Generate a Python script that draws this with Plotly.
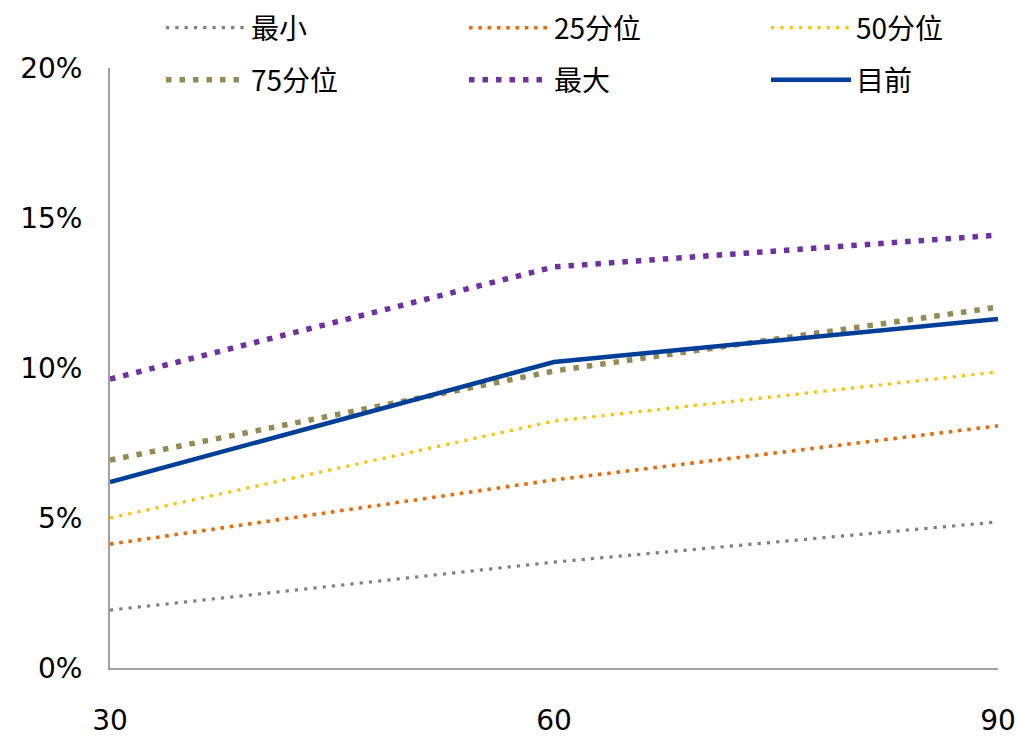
import plotly.graph_objects as go

x_days = [30, 60, 90]
series_names = ["最小", "25分位", "50分位", "75分位", "最大", "目前"]
v_min = [1.93, 3.53, 4.87]
v_p25 = [4.13, 6.27, 8.07]
v_p50 = [5.0, 8.23, 9.87]
v_p75 = [6.93, 9.9, 12.03]
v_max = [9.63, 13.37, 14.43]
v_now = [6.2, 10.2, 11.63]
y_ticks = [0, 5, 10, 15, 20]

values = [v_min, v_p25, v_p50, v_p75, v_max, v_now]
colors = ["#7f7f7f", "#e46c0a", "#ffc000", "#948a54", "#7030a0", "#003f98"]
widths = [3.2, 3.6, 3.2, 5.5, 5.5, 4.5]
dashes = ["3.2px,6.1px", "3.6px,5.7px", "3.2px,6.1px", "5.5px,8px", "5.5px,8px", "solid"]

# legend placement (one legend box per entry, laid out as a 3x2 grid)
W, H = 1020, 738
ML, MR, MT, MB = 110, 22, 68, 70
PW, PH = W - ML - MR, H - MT - MB
legend_px_x = [161, 464, 766, 161, 464, 766]
legend_px_y = [28, 28, 28, 80, 80, 80]

fig = go.Figure()
layout_legends = {}
for i, (name, vals, c, w, d) in enumerate(zip(series_names, values, colors, widths, dashes)):
    lid = "legend" if i == 0 else f"legend{i + 1}"
    fig.add_trace(go.Scatter(
        x=x_days, y=vals, name=name, mode="lines",
        line=dict(color=c, width=w, dash=d),
        legend=lid, showlegend=True,
    ))
    layout_legends[lid] = dict(
        orientation="h",
        font=dict(family="Noto Sans CJK SC", size=28, color="#000000"),
        bgcolor="rgba(0,0,0,0)",
        xanchor="left", yanchor="middle",
        x=(legend_px_x[i] - ML) / PW,
        y=(H - MB - legend_px_y[i]) / PH,
        itemwidth=80,
    )

fig.update_layout(
    width=W, height=H, showlegend=True,
    margin=dict(l=ML, r=MR, t=MT, b=MB, autoexpand=False),
    plot_bgcolor="white", paper_bgcolor="white",
    xaxis=dict(
        range=[30, 90], tickvals=x_days, ticktext=[str(v) for v in x_days],
        showgrid=False, zeroline=False,
        showline=True, linecolor="#a0a0a0", linewidth=2,
        ticks="", ticklabelstandoff=26,
        tickfont=dict(family="DejaVu Sans", size=28, color="#000000"),
    ),
    yaxis=dict(
        range=[0, 20], tickvals=y_ticks, ticktext=[f"{v}%" for v in y_ticks],
        showgrid=False, zeroline=False,
        showline=True, linecolor="#a0a0a0", linewidth=2,
        ticks="", ticklabelstandoff=20,
        tickfont=dict(family="DejaVu Sans", size=28, color="#000000"),
    ),
    **layout_legends,
)

fig.write_html(
    "out.html",
    config={"displayModeBar": False},
    post_script="document.body.style.margin='0px';",
)
